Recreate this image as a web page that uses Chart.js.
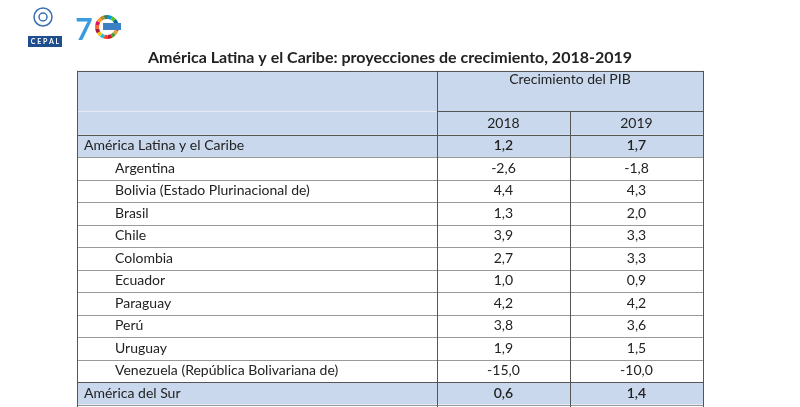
<!DOCTYPE html>
<html><head><meta charset="utf-8">
<script src="https://cdn.jsdelivr.net/npm/chart.js@4"></script>
<style>html,body{margin:0;padding:0;background:#fff}#c{display:block}</style>
</head><body>
<div style="width:800px;height:407px"><canvas id="c"></canvas></div>
<script>
const title = "América Latina y el Caribe: proyecciones de crecimiento, 2018-2019";
const groupHeader = "Crecimiento del PIB";
const years = ["2018", "2019"];
const rows = ["América Latina y el Caribe","Argentina","Bolivia (Estado Plurinacional de)","Brasil","Chile","Colombia","Ecuador","Paraguay","Perú","Uruguay","Venezuela (República Bolivariana de)","América del Sur"];
const aggregate = [true,false,false,false,false,false,false,false,false,false,false,true];
const v2018 = [1.2,-2.6,4.4,1.3,3.9,2.7,1.0,4.2,3.8,1.9,-15.0,0.6];
const v2019 = [1.7,-1.8,4.3,2.0,3.3,3.3,0.9,4.2,3.6,1.5,-10.0,1.4];
const fmt = v => v.toFixed(1).replace('.', ',');

const SHADE = '#c9d8ec', LINE = '#9a9a9a', DARK = '#555';
const FONT = 'Lato, "Open Sans", sans-serif';

const tablePlugin = {
  id: 'table',
  beforeDatasetsDraw(chart) {
    const ctx = chart.ctx, x = chart.scales.x, y = chart.scales.y;
    const L = x.getPixelForValue(0), D1 = x.getPixelForValue(0.575), D2 = x.getPixelForValue(0.7875), R = x.getPixelForValue(1);
    const yTop = y.getPixelForValue(-2.83), yYear = y.getPixelForValue(-1.03), y0 = y.getPixelForValue(0);
    ctx.save();
    ctx.fillStyle = SHADE;
    ctx.fillRect(L, yTop, R - L, y0 - yTop);
    rows.forEach((r, i) => {
      if (aggregate[i]) {
        const a = y.getPixelForValue(i), b = y.getPixelForValue(i + 1);
        ctx.fillRect(L, a, R - L, b - a);
      }
    });
    ctx.lineWidth = 1;
    const hl = (x1, x2, yy, c) => { ctx.strokeStyle = c || LINE; ctx.beginPath(); ctx.moveTo(x1, Math.round(yy) + 0.5); ctx.lineTo(x2, Math.round(yy) + 0.5); ctx.stroke(); };
    const vl = (xx, y1, y2, c) => { ctx.strokeStyle = c || LINE; ctx.beginPath(); ctx.moveTo(Math.round(xx) + 0.5, y1); ctx.lineTo(Math.round(xx) + 0.5, y2); ctx.stroke(); };
    hl(L, R, yTop, DARK);
    hl(L, D1, yYear, '#e4ebf5');
    hl(D1, R, yYear, DARK);
    hl(L, R, y0, DARK);
    for (let i = 1; i <= rows.length; i++) hl(L, R, y.getPixelForValue(i), i === rows.length - 1 ? DARK : LINE);
    vl(L, yTop, 407, DARK); vl(R, yTop, 407, DARK);
    vl(D1, yTop, 407, DARK); vl(D2, yYear, 407, DARK);
    ctx.fillStyle = '#222'; ctx.textBaseline = 'middle';
    ctx.font = 'bold 16px ' + FONT; ctx.textAlign = 'center';
    ctx.fillText(title, 390, 58);
    ctx.font = '14px ' + FONT;
    ctx.fillText(groupHeader, (D1 + R) / 2, y.getPixelForValue(-2.45));
    ctx.fillText(years[0], (D1 + D2) / 2, y.getPixelForValue(-0.5));
    ctx.fillText(years[1], (D2 + R) / 2, y.getPixelForValue(-0.5));
    rows.forEach((r, i) => {
      const yc = y.getPixelForValue(i + 0.5);
      ctx.textAlign = 'left';
      ctx.font = '14px ' + FONT;
      ctx.fillText(r, aggregate[i] ? L + 7 : L + 38, yc);
      ctx.textAlign = 'center';
      ctx.font = (aggregate[i] ? '600 ' : '') + '14px ' + FONT;
      ctx.fillText(fmt(v2018[i]), (D1 + D2) / 2, yc);
      ctx.fillText(fmt(v2019[i]), (D2 + R) / 2, yc);
    });
    // logos
    ctx.lineWidth = 1.5; ctx.strokeStyle = '#3b6fb0';
    ctx.beginPath(); ctx.arc(43, 17, 9, 0, Math.PI * 2); ctx.stroke();
    ctx.beginPath(); ctx.arc(43, 17, 4, 0, Math.PI * 2); ctx.stroke();
    ctx.fillStyle = '#1f4e8f'; ctx.fillRect(28, 36, 34, 11);
    ctx.fillStyle = '#fff'; ctx.font = 'bold 7px ' + FONT; ctx.textAlign = 'center'; ctx.fillText('C E P A L', 45, 42);
    ctx.fillStyle = '#3a9be0'; ctx.font = 'bold 30px ' + FONT; ctx.fillText('7', 84, 30);
    const cols = ['#e5243b','#dda63a','#4c9f38','#c5192d','#ff3a21','#26bde2','#fcc30b','#a21942','#fd6925','#dd1367','#fd9d24','#bf8b2e','#3f7e44','#0a97d9','#56c02b','#00689d','#19486a'];
    cols.forEach((c, k) => { ctx.strokeStyle = c; ctx.lineWidth = 4; ctx.beginPath(); const a = k / cols.length * Math.PI * 2; ctx.arc(107, 27, 10, a, a + Math.PI * 2 / cols.length); ctx.stroke(); });
    ctx.fillStyle = '#3b7fc4'; ctx.fillRect(103, 23, 18, 7);
    ctx.restore();
  }
};

new Chart(document.getElementById('c'), {
  type: 'bar',
  data: { labels: rows, datasets: [{ data: [], backgroundColor: 'rgba(0,0,0,0)' }] },
  options: {
    animation: false, responsive: true, maintainAspectRatio: false,
    layout: { padding: { left: 77, right: 97, top: 134.5, bottom: 0 } },
    plugins: { legend: { display: false }, tooltip: { enabled: false } },
    scales: {
      x: { type: 'linear', min: 0, max: 1, display: false, offset: false },
      y: { type: 'linear', min: 0, max: 12.11, reverse: true, display: false, offset: false }
    }
  },
  plugins: [tablePlugin]
});
</script>
</body></html>
